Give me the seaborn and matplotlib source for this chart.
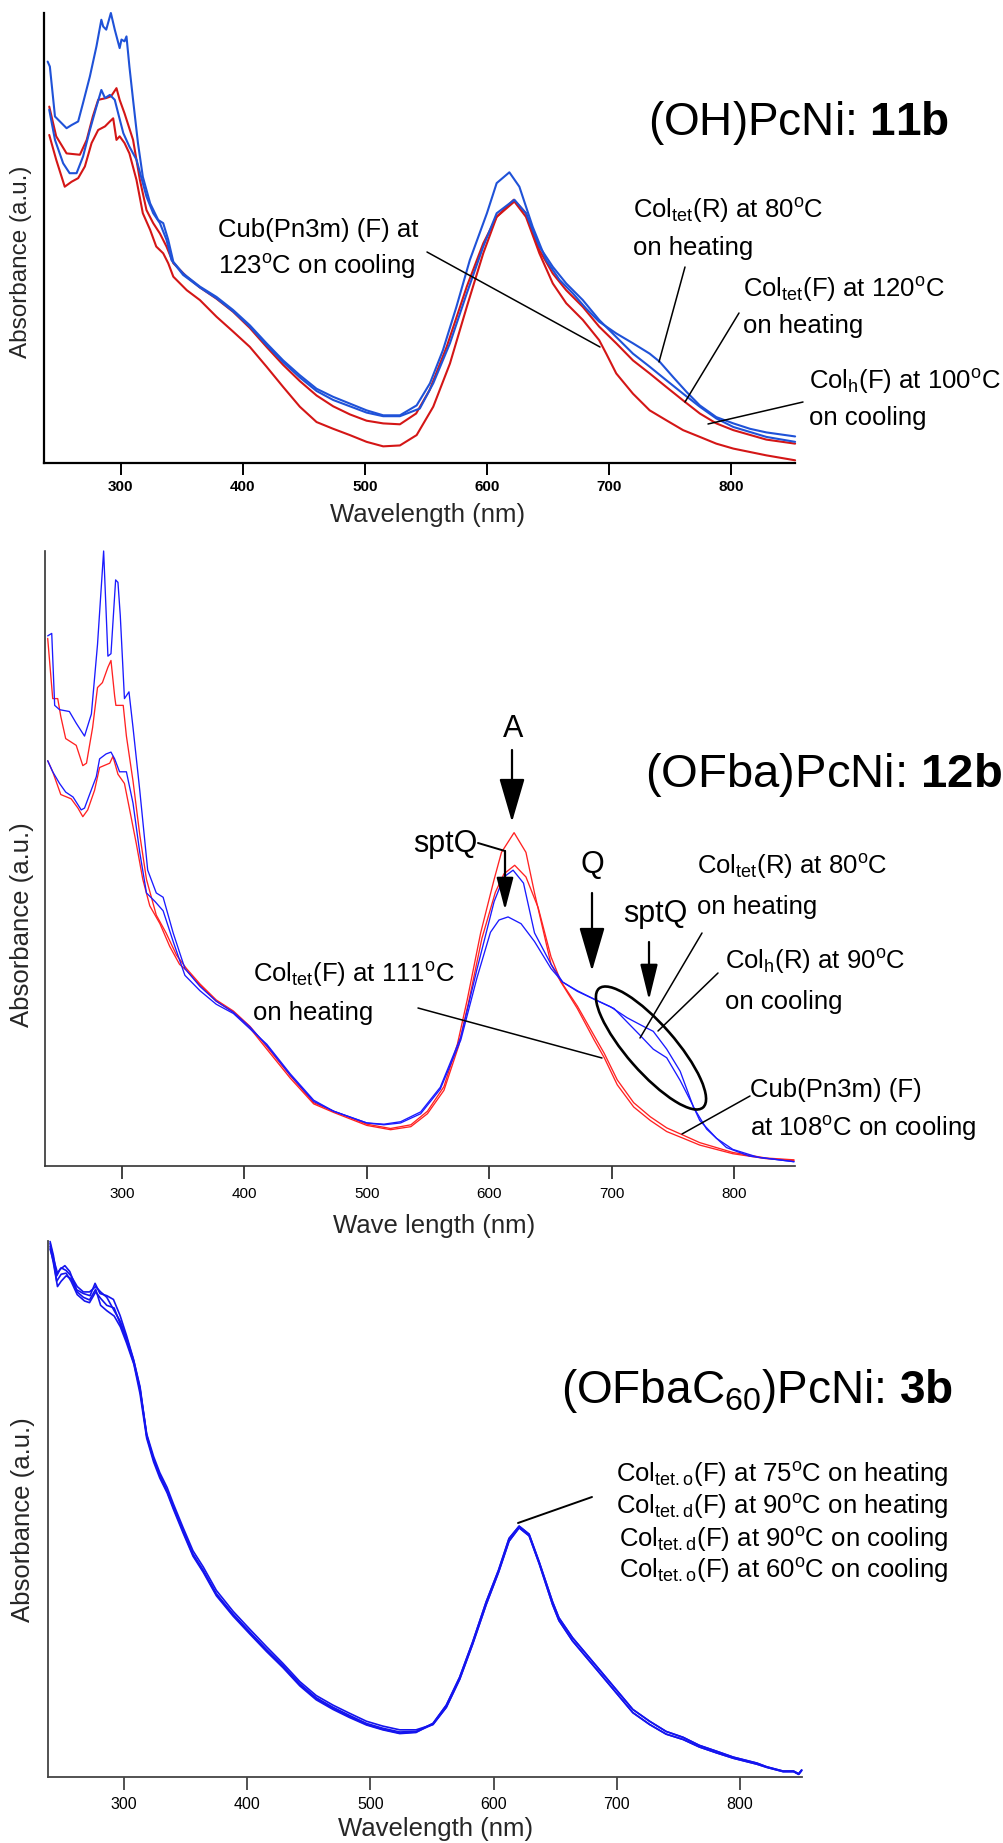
import numpy as np
import pandas as pd
import matplotlib
matplotlib.use("Agg")
import matplotlib.pyplot as plt
import seaborn as sns
from matplotlib.patches import Ellipse, FancyArrowPatch
from matplotlib.lines import Line2D

# ---------------- data (wavelength nm, absorbance a.u. normalised to axis) -------------
xticks = [300, 400, 500, 600, 700, 800]

# Panel 1: (OH)PcNi 11b
p1_blue_a = [(240,0.892),(241.8,0.881),(246,0.770),(255.5,0.744),(259.6,0.751),(265,0.759),(269,0.800),
    (274.6,0.859),(280,0.926),(284,0.985),(285.5,0.970),(288,0.963),(291.8,1.0),(295,0.963),(299,0.922),
    (300.5,0.941),(303,0.937),(304.6,0.948),(307,0.881),(310,0.807),(314,0.711),(318,0.636),(324,0.577),
    (330.6,0.540),(334.7,0.533),(338.8,0.496),(343,0.447),(351,0.421),(364.8,0.392),(378.4,0.369),(392,0.340),
    (405.7,0.306),(419.4,0.266),(433,0.228),(446.7,0.195),(460.4,0.165),(474,0.147),(487.7,0.132),(501.4,0.117),
    (515,0.106),(528.7,0.106),(542.4,0.128),(553.3,0.177),(564,0.251),(575,0.347),(586,0.451),(600,0.555),
    (608,0.622),(618.4,0.646),(626.6,0.614),(637.5,0.525),(648.5,0.451),(659.5,0.407),(670.4,0.377),
    (681.4,0.343),(692,0.314),(706,0.288),(719.7,0.266),(733.4,0.243),(741.6,0.225),(752.6,0.191),
    (763.6,0.158),(774.5,0.128),(788,0.102),(802,0.088),(815.6,0.076),(829,0.068),(852.6,0.059)]
p1_blue_b = [(241.3,0.785),(246,0.718),(252.7,0.666),(258,0.644),(263.7,0.644),(269,0.681),(274.6,0.740),
    (280,0.792),(284,0.829),(287,0.811),(291,0.818),(295,0.807),(297.8,0.777),(302,0.733),(307,0.703),
    (312.8,0.674),(321,0.592),(326.5,0.555),(332,0.533),(337.4,0.496),(341.5,0.451),(351,0.418),(364.8,0.390),
    (378.4,0.366),(392,0.337),(405.7,0.303),(419.4,0.262),(433,0.224),(446.7,0.190),(460.4,0.160),(474,0.140),
    (487.7,0.126),(501.4,0.112),(515,0.104),(528.7,0.104),(545,0.121),(556,0.177),(569.7,0.266),(583.5,0.377),
    (597,0.481),(608,0.555),(622.5,0.585),(632,0.555),(643,0.481),(654,0.436),(665,0.399),(678.6,0.362),
    (692,0.318),(706,0.280),(719.7,0.243),(733.4,0.214),(747,0.184),(760.8,0.154),(774.5,0.125),(788,0.099),
    (802,0.080),(829,0.058),(852.6,0.047)]
p1_red_a = [(241.3,0.792),(247,0.726),(255.5,0.688),(266.4,0.685),(272,0.718),(277,0.770),(281.4,0.807),
    (288,0.811),(292,0.815),(296.4,0.833),(299,0.807),(303,0.777),(310,0.718),(315.6,0.629),(321,0.562),
    (326.5,0.533),(332,0.510),(337.4,0.481),(343,0.444),(354,0.414),(364.8,0.390),(378.4,0.365),(392,0.336),
    (405.7,0.300),(419.4,0.258),(433,0.218),(446.7,0.182),(460.4,0.150),(474,0.126),(487.7,0.108),
    (501.4,0.094),(515,0.088),(528.7,0.086),(542,0.110),(553,0.162),(567,0.258),(583.5,0.392),(597,0.488),
    (608,0.547),(622,0.585),(632,0.555),(643,0.473),(654,0.421),(665,0.384),(678.6,0.347),(692,0.303),
    (706,0.266),(719.7,0.228),(733.4,0.199),(747,0.169),(760.8,0.139),(774.5,0.110),(788,0.088),(802,0.073),
    (829,0.052),(852.6,0.043)]
p1_red_b = [(241.3,0.729),(247,0.674),(254,0.614),(259.6,0.625),(265,0.633),(270.5,0.659),(276,0.711),
    (281.4,0.740),(287,0.748),(291,0.759),(293.7,0.766),(296.4,0.718),(299,0.726),(303,0.711),(307,0.688),
    (312.8,0.629),(318,0.555),(324,0.518),(329,0.481),(334.7,0.466),(338.8,0.444),(343,0.414),(354,0.384),
    (364.8,0.362),(378.4,0.325),(392,0.292),(405.7,0.258),(419.4,0.214),(433,0.169),(446.7,0.125),
    (460.4,0.091),(474,0.076),(487.7,0.062),(501.4,0.047),(515,0.037),(528.7,0.039),(542.4,0.062),
    (556,0.125),(569.7,0.221),(583.5,0.347),(597,0.466),(608,0.547),(622.5,0.581),(632,0.547),(643,0.466),
    (654,0.399),(665,0.355),(678.6,0.318),(692,0.273),(697.8,0.243),(706,0.199),(719.7,0.154),(733.4,0.117),
    (747,0.095),(760.8,0.073),(774.5,0.058),(788,0.043),(802,0.032),(829,0.017),(852.6,0.006)]

# Panel 2: (OFba)PcNi 12b
p2_blue_a = [(239.3,0.862),(242.6,0.866),(245,0.749),(249,0.742),(257,0.739),(262.6,0.720),(269.4,0.699),
    (275,0.735),(280,0.848),(285,1.0),(288.5,0.829),(291,0.833),(294.8,0.953),(296.7,0.949),(298.6,0.895),
    (302,0.760),(305.7,0.771),(309,0.713),(314.5,0.611),(321,0.481),(328,0.444),(333.6,0.437),(341.8,0.379),
    (351.4,0.321),(363.7,0.292),(377,0.268),(391,0.250),(404.6,0.226),(418.3,0.196),(437.4,0.148),
    (456.6,0.105),(473,0.089),(500,0.070),(514,0.068),(527.6,0.072),(544,0.088),(560,0.128),(576.8,0.210),
    (590,0.320),(604,0.430),(612,0.470),(619.5,0.481),(628,0.460),(637,0.379),(650.5,0.328),(660,0.299),
    (672,0.285),(687,0.270),(699,0.259),(712.7,0.241),(726,0.227),(734,0.219),(745,0.190),(756,0.154),
    (766.8,0.096),(777.6,0.060),(793.8,0.030),(812.7,0.016),(849,0.007)]
p2_blue_b = [(239.3,0.659),(243.4,0.641),(249,0.622),(254,0.608),(260,0.600),(266.7,0.579),(269.4,0.582),
    (273.5,0.604),(279,0.633),(281.7,0.662),(287,0.670),(291,0.673),(294,0.662),(298,0.641),(303.6,0.641),
    (309,0.590),(314.5,0.510),(320,0.444),(327,0.430),(333.6,0.415),(341.8,0.365),(351.4,0.310),(363.7,0.285),
    (377,0.263),(391,0.248),(404.6,0.223),(418.3,0.198),(437.4,0.150),(456.6,0.107),(473,0.089),(500,0.070),
    (514,0.067),(527.6,0.070),(544,0.085),(560,0.125),(576.8,0.205),(590,0.306),(601,0.380),(608,0.400),
    (615.4,0.405),(626,0.394),(637,0.365),(650.5,0.321),(660,0.299),(672,0.284),(687,0.270),(702,0.256),
    (712.7,0.234),(723.5,0.212),(734,0.190),(745,0.176),(756,0.139),(766,0.100),(772,0.074),(785.7,0.045),
    (799,0.027),(820,0.014),(849,0.007)]
p2_red_a = [(239.3,0.858),(243.4,0.760),(247.5,0.760),(250,0.731),(254,0.695),(262.6,0.684),(268,0.651),
    (271,0.655),(276,0.713),(280,0.778),(284,0.786),(288.5,0.811),(291,0.822),(294,0.764),(295,0.749),
    (301,0.749),(303.6,0.699),(309,0.626),(314.5,0.539),(320,0.466),(328,0.408),(336,0.379),(344.5,0.343),
    (352.7,0.321),(363.7,0.296),(377,0.270),(391,0.252),(404.6,0.227),(418.3,0.194),(437.4,0.147),
    (456.6,0.103),(473,0.089),(500,0.068),(519.4,0.061),(536,0.067),(549.5,0.089),(563,0.129),(574,0.198),
    (582,0.270),(593,0.379),(604,0.466),(610,0.510),(620.3,0.542),(630,0.510),(637,0.444),(650.5,0.328),
    (658.6,0.299),(672,0.256),(685.7,0.205),(694,0.176),(704.6,0.132),(718,0.096),(731.6,0.074),(745,0.056),
    (758.6,0.045),(772,0.034),(799,0.020),(826,0.012),(849,0.009)]
p2_red_b = [(239.3,0.659),(243.4,0.641),(250,0.604),(258.5,0.597),(264,0.582),(268,0.568),(272,0.579),
    (277.6,0.611),(281.7,0.648),(290,0.655),(292.6,0.666),(296.7,0.637),(302,0.622),(306,0.582),(311.7,0.524),
    (317,0.466),(322.7,0.423),(331,0.394),(339,0.357),(347,0.328),(352.7,0.318),(363.7,0.294),(377,0.268),
    (391,0.250),(404.6,0.224),(418.3,0.190),(437.4,0.143),(456.6,0.101),(473,0.087),(500,0.066),(519.4,0.059),
    (536,0.064),(549.5,0.085),(563,0.123),(575,0.195),(583,0.265),(594,0.370),(605,0.445),(612,0.475),
    (620.8,0.489),(630,0.470),(640,0.420),(650.5,0.340),(658.6,0.300),(672,0.260),(685.7,0.212),(694,0.183),
    (704.6,0.140),(718,0.103),(731.6,0.080),(745,0.062),(758.6,0.050),(772,0.038),(799,0.022),(826,0.013),
    (849,0.010)]

# Panel 3: (OFbaC60)PcNi 3b  (four nearly coincident scans)
p3_head_a = [(240,0.999),(242.7,0.973),(245.4,0.935),(248,0.947),(252,0.954),(256,0.943),(261.6,0.909),
    (267,0.902),(272.4,0.898),(276.5,0.921),(280.5,0.902),(286,0.898),(291.4,0.891),(296.8,0.861),(302,0.824),
    (307.6,0.780),(313,0.728),(318.4,0.638),(323.8,0.594),(329,0.564),(334.6,0.535),(340,0.505),(348,0.460),
    (356,0.416),(364.3,0.386),(375,0.342),(388.6,0.304),(402,0.271),(415.7,0.238),(429,0.208),(442.7,0.174),
    (456,0.148),(469.7,0.130),(483,0.115),(496.8,0.100),(510,0.091),(523.8,0.084),(537,0.085)]
p3_head_b = [(240,0.985),(243,0.960),(245.4,0.925),(249,0.938),(253,0.940),(257,0.925),(262,0.900),
    (268,0.888),(272,0.885),(277,0.905),(281,0.893),(286,0.880),(292,0.875),(297,0.845),(302,0.815),
    (308,0.772),(313,0.722),(318.4,0.640),(324,0.598),(329,0.568),(335,0.540),(340,0.510),(348,0.465),
    (356,0.422),(364.3,0.392),(375,0.348),(388.6,0.309),(402,0.276),(415.7,0.243),(429,0.212),(442.7,0.178),
    (456,0.152),(469.7,0.134),(483,0.119),(496.8,0.104),(510,0.095),(523.8,0.088),(537,0.088)]
p3_head_c = [(240,0.990),(243,0.955),(246,0.915),(249,0.925),(253,0.935),(257,0.930),(262,0.905),
    (267,0.895),(272,0.890),(277,0.910),(281,0.880),(286,0.870),(292,0.860),(297,0.840),(302,0.810),
    (308,0.770),(313,0.715),(318.4,0.632),(324,0.588),(329,0.558),(335,0.530),(340,0.500),(348,0.455),
    (356,0.412),(364.3,0.382),(375,0.338),(388.6,0.300),(402,0.267),(415.7,0.234),(429,0.204),(442.7,0.170),
    (456,0.144),(469.7,0.126),(483,0.111),(496.8,0.097),(510,0.088),(523.8,0.081),(537,0.083)]
p3_head_d = [(240,0.995),(243,0.965),(246,0.940),(249,0.950),(253,0.945),(257,0.935),(262,0.915),
    (267,0.905),(272,0.905),(277,0.915),(281,0.905),(286,0.895),(292,0.870),(297,0.850),(302,0.820),
    (308,0.776),(313,0.725),(318.4,0.636),(324,0.592),(329,0.562),(335,0.533),(340,0.503),(348,0.458),
    (356,0.414),(364.3,0.384),(375,0.340),(388.6,0.302),(402,0.269),(415.7,0.236),(429,0.206),(442.7,0.172),
    (456,0.146),(469.7,0.128),(483,0.113),(496.8,0.098),(510,0.089),(523.8,0.082),(537,0.084)]
p3_tail_a = [(550.8,0.100),(561.6,0.134),(572.4,0.186),(583,0.252),(594,0.327),(604,0.386),(612.5,0.445),
    (620.7,0.468),(628.8,0.453),(637,0.401),(647.8,0.327),(653,0.297),(664,0.260),(675,0.230),(686,0.200),
    (699.5,0.163),(713,0.126),(726.6,0.104),(740,0.085),(753.8,0.074),(767,0.059),(781,0.048),(794.6,0.037),
    (813.6,0.026),(821.7,0.019),(835,0.011),(843.5,0.011),(847.6,0.006),(850,0.013)]
p3_tail_b = [(550.8,0.098),(561.6,0.130),(572.4,0.182),(583,0.248),(594,0.322),(604,0.382),(612.5,0.440),
    (620.7,0.465),(628.8,0.450),(637,0.398),(647.8,0.322),(653,0.292),(664,0.254),(675,0.224),(686,0.194),
    (699.5,0.157),(713,0.120),(726.6,0.098),(740,0.080),(753.8,0.070),(767,0.056),(781,0.045),(794.6,0.035),
    (813.6,0.024),(821.7,0.018),(835,0.010),(843.5,0.010),(847.6,0.005),(850,0.012)]

# ---------------- style ----------------
sns.set_theme(style="white")
plt.rcParams["font.family"] = ["Liberation Sans", "DejaVu Sans"]
plt.rcParams["mathtext.fontset"] = "custom"
plt.rcParams["mathtext.rm"] = "Liberation Sans"
plt.rcParams["mathtext.it"] = "Liberation Sans:italic"
plt.rcParams["mathtext.bf"] = "Liberation Sans:bold"

W, H = 1004, 1843
fig = plt.figure(figsize=(W / 100, H / 100), dpi=100)
fig.patch.set_facecolor("white")


def fx(x):
    return x / W


def fy(y):
    return 1 - y / H


def add_axes_px(x0, y0, x1, y1):
    return fig.add_axes([x0 / W, 1 - y1 / H, (x1 - x0) / W, (y1 - y0) / H])


def curve(ax, pts, color, lw):
    df = pd.DataFrame(pts, columns=["wl", "absorb"])
    sns.lineplot(data=df, x="wl", y="absorb", ax=ax, color=color, lw=lw,
                 estimator=None, sort=False, clip_on=False)


def style_axes(ax, xlim, box, spine_lw, spine_col, tick_len, tick_w, pad, lsize, bold,
               xlabel, xl_pos, ylabel_size, yl_pos, xlabel_size):
    ax.set_xlim(*xlim)
    ax.set_ylim(0, 1)
    ax.set_yticks([])
    ax.set_xticks(xticks, labels=[str(t) for t in xticks],
                  fontweight="bold" if bold else "normal")
    for s in ["top", "right"]:
        ax.spines[s].set_visible(False)
    for s in ["left", "bottom"]:
        ax.spines[s].set_color(spine_col)
        ax.spines[s].set_linewidth(spine_lw)
    ax.tick_params(axis="x", bottom=True, direction="out", length=tick_len, width=tick_w,
                   pad=pad, labelsize=lsize, color=spine_col, labelcolor="black")
    ax.grid(False)
    x0, y0, x1, y1 = box
    ax.set_xlabel(xlabel, fontsize=xlabel_size)
    ax.xaxis.label.set_va("center")
    ax.xaxis.set_label_coords((xl_pos[0] - x0) / (x1 - x0), (y1 - xl_pos[1]) / (y1 - y0))
    ax.set_ylabel("Absorbance (a.u.)", fontsize=ylabel_size)
    ax.yaxis.label.set_va("center")
    ax.yaxis.label.set_ha("center")
    ax.yaxis.set_label_coords((yl_pos[0] - x0) / (x1 - x0), (y1 - yl_pos[1]) / (y1 - y0))


def txt(x, y, s, size=18.5, ha="left", va="baseline", **kw):
    fig.text(fx(x), fy(y), s, fontsize=size, ha=ha, va=va, color="black", **kw)


def seg(p, q, lw=1.1):
    fig.add_artist(Line2D([fx(p[0]), fx(q[0])], [fy(p[1]), fy(q[1])],
                          transform=fig.transFigure, color="black", lw=lw))


def arrow(p, q, hl, hw, lw=1.5):
    fig.add_artist(FancyArrowPatch((fx(p[0]), fy(p[1])), (fx(q[0]), fy(q[1])),
                                   transform=fig.transFigure,
                                   arrowstyle=f"-|>,head_length={hl},head_width={hw}",
                                   mutation_scale=20, color="black", lw=lw,
                                   shrinkA=0, shrinkB=0))


deg = r"$^{\mathrm{o}}$"

# ---------------- panel 1 ----------------
b1 = (44, 13, 795, 463)
ax1 = add_axes_px(*b1)
c1b, c1r = "#1f52d8", "#d41616"
for pts, c in [(p1_red_b, c1r), (p1_red_a, c1r), (p1_blue_b, c1b), (p1_blue_a, c1b)]:
    curve(ax1, pts, c, 1.5)
style_axes(ax1, (237, 852.5), b1, 1.6, "black", 8.5, 1.4, 4.0, 11, True,
           "Wavelength (nm)", (428, 515), 17.5, (21, 262), 18.5)

txt(648, 135, r"(OH)PcNi: $\mathbf{11b}$", size=33)
txt(218, 237, "Cub(Pn3m) (F) at")
txt(218, 274, "123" + deg + "C on cooling")
txt(633, 218, r"Col$_{\mathrm{tet}}$(R) at 80" + deg + "C")
txt(633, 255, "on heating")
txt(743, 297, r"Col$_{\mathrm{tet}}$(F) at 120" + deg + "C")
txt(743, 333, "on heating")
txt(809, 389, r"Col$_{\mathrm{h}}$(F) at 100" + deg + "C")
txt(809, 425, "on cooling")
seg((427, 252), (600, 347))
seg((685, 267), (659, 362))
seg((739, 313), (685, 402))
seg((803, 402), (708, 424))

# ---------------- panel 2 ----------------
b2 = (45, 551, 795, 1166)
ax2 = add_axes_px(*b2)
c2b, c2r = "#1a1aff", "#ff2222"
for pts, c in [(p2_red_b, c2r), (p2_red_a, c2r), (p2_blue_b, c2b), (p2_blue_a, c2b)]:
    curve(ax2, pts, c, 0.95)
style_axes(ax2, (237.1, 849.8), b2, 1.2, "#333333", 9.5, 1.3, 5.5, 11, False,
           "Wave length (nm)", (434, 1226), 18.5, (22, 925), 18.5)

txt(645, 787, r"(OFba)PcNi: $\mathbf{12b}$", size=34)
txt(513, 737, "A", size=22, ha="center")
arrow((512, 750), (512, 822), 1.37, 0.40, lw=1.6)
txt(592, 873, "Q", size=22, ha="center")
arrow((592, 893), (592, 971), 1.37, 0.40, lw=1.6)
txt(413, 852, "sptQ", size=22)
seg((478, 843), (505, 851), lw=1.4)
arrow((505, 851), (505, 910), 1.0, 0.26, lw=1.6)
txt(623, 922, "sptQ", size=22)
arrow((649, 942), (649, 1000), 1.1, 0.27, lw=1.6)

txt(253, 982, r"Col$_{\mathrm{tet}}$(F) at 111" + deg + "C")
txt(253, 1020, "on heating")
txt(697, 874, r"Col$_{\mathrm{tet}}$(R) at 80" + deg + "C")
txt(697, 914, "on heating")
txt(725, 969, r"Col$_{\mathrm{h}}$(R) at 90" + deg + "C")
txt(725, 1009, "on cooling")
txt(750, 1097, "Cub(Pn3m) (F)")
txt(750, 1136, "at 108" + deg + "C on cooling")
seg((418, 1008), (602, 1058))
seg((702, 933), (640, 1038))
seg((718, 973), (658, 1031))
seg((750, 1096), (682, 1134))
fig.add_artist(Ellipse((6.51, (H - 1048) / 100), 1.58, 0.48, angle=-48.8,
                       transform=fig.dpi_scale_trans, fill=False, ec="black", lw=1.9))

# ---------------- panel 3 ----------------
b3 = (48, 1241, 802, 1777)
ax3 = add_axes_px(*b3)
c3 = "#1414ee"
for head, tail in [(p3_head_a, p3_tail_a), (p3_head_b, p3_tail_b),
                   (p3_head_c, p3_tail_a), (p3_head_d, p3_tail_b)]:
    curve(ax3, head + tail, c3, 1.2)
style_axes(ax3, (238.3, 850.3), b3, 1.3, "#444444", 9.5, 1.3, 4.8, 11.5, False,
           "Wavelength (nm)", (436, 1829), 18.5, (23, 1520), 18.5)

txt(561, 1403, r"(OFbaC$_{60}$)PcNi: $\mathbf{3b}$", size=33)
rx = 948
txt(rx, 1482, r"Col$_{\mathrm{tet.o}}$(F) at 75" + deg + "C on heating", ha="right")
txt(rx, 1514, r"Col$_{\mathrm{tet.d}}$(F) at 90" + deg + "C on heating", ha="right")
txt(rx, 1547, r"Col$_{\mathrm{tet.d}}$(F) at 90" + deg + "C on cooling", ha="right")
txt(rx, 1578, r"Col$_{\mathrm{tet.o}}$(F) at 60" + deg + "C on cooling", ha="right")
seg((518, 1523), (592, 1497), lw=1.4)

fig.savefig("out.png", dpi=100, facecolor="white")
